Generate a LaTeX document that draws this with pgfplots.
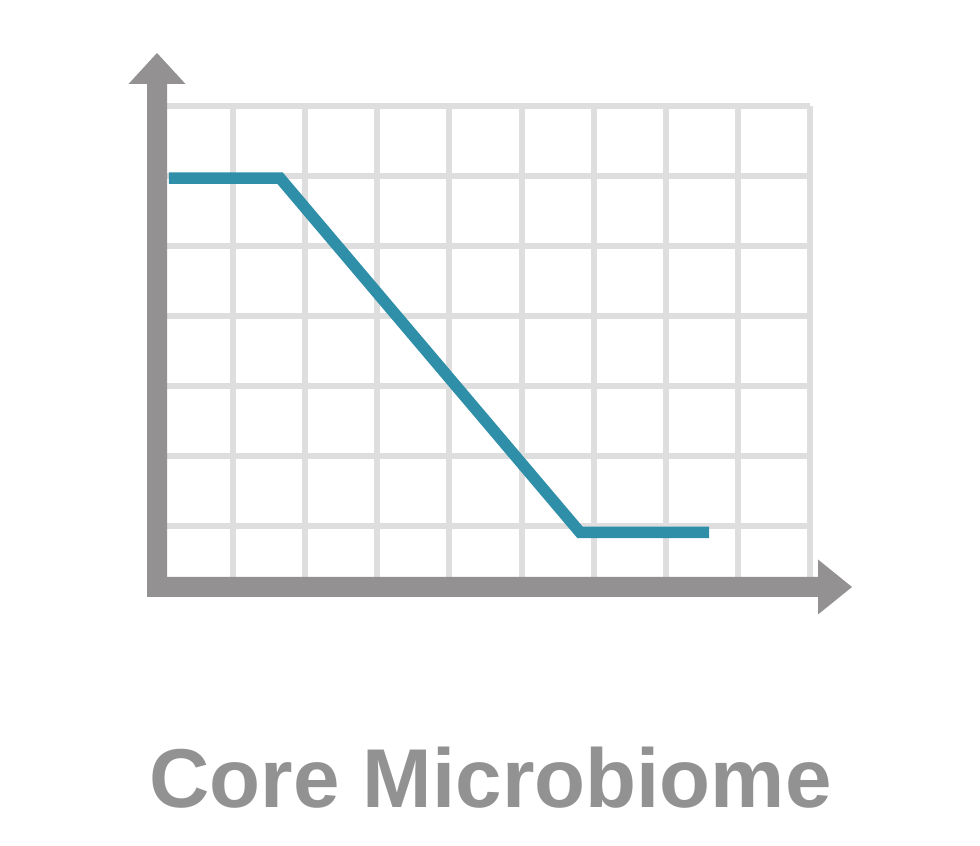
\documentclass[border=0pt]{standalone}
\usepackage{pgfplots}
\pgfplotsset{compat=1.18}
\usepackage{fontspec}
\setmainfont{Liberation Sans}

\definecolor{axisgray}{HTML}{939192}
\definecolor{gridgray}{HTML}{DDDEDD}
\definecolor{teal}{HTML}{2F8FA9}
\definecolor{textgray}{HTML}{929292}

\begin{document}
\begin{tikzpicture}
% picture is 980 x 846 px, 1 px = 0.5pt
\useasboundingbox (0pt,0pt) rectangle (490pt,423pt);

\begin{axis}[
    at={(80.5pt,125pt)},
    anchor=south west,
    width=324.5pt,
    height=245pt,
    scale only axis,
    xmin=0, xmax=9,
    ymin=0, ymax=7,
    xtick={1,...,9},
    ytick={1,...,7},
    xticklabels={},
    yticklabels={},
    tick label style={opacity=0},
    major tick length=0pt,
    axis line style={draw=none},
    grid=major,
    major grid style={color=gridgray, line width=3pt},
    clip=false,
]
\addplot[color=teal, line width=5.75pt, line join=miter, line cap=butt]
coordinates {
    (0.11,5.97)
    (1.65,5.97)
    (5.81,0.91)
    (7.60,0.91)
};
\end{axis}

\begin{scope}[x=0.5pt, y=-0.5pt, shift={(0pt,423pt)}]
    % vertical axis with arrow
    \fill[axisgray] (147,597) -- (147,84) -- (128.5,84) -- (157,53)
        -- (185.5,84) -- (167,84) -- (167,597) -- cycle;
    % horizontal axis with arrow
    \fill[axisgray] (147,597) -- (147,577) -- (818,577) -- (818,559.5)
        -- (852,587) -- (818,614.5) -- (818,597) -- cycle;
    \node[anchor=base, text=textgray, inner sep=0pt,
          font=\fontsize{41.75}{50}\selectfont\bfseries]
        at (490.5,808) {Core Microbiome};
\end{scope}
\end{tikzpicture}
\end{document}
